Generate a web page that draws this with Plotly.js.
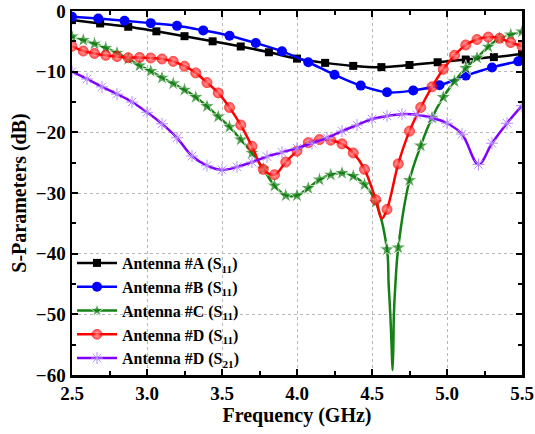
<!DOCTYPE html>
<html>
<head>
<meta charset="utf-8">
<script src="https://cdn.plot.ly/plotly-3.0.1.min.js"></script>
<style>html,body{margin:0;padding:0;background:#fff;}#chart{width:535px;height:434px;}</style>
</head>
<body>
<div id="chart"></div>
<script>
// Antenna #A (S11)
const freqA = [2.5, 2.6875, 2.875, 3.0625, 3.25, 3.4375, 3.625, 3.8125, 4.0, 4.1875, 4.375, 4.5625, 4.75, 4.9375, 5.125, 5.3125, 5.5];
const s11A  = [-1.5, -2.05, -2.6, -3.35, -4.15, -5.0, -5.85, -6.8, -7.85, -8.55, -9.05, -9.25, -8.9, -8.45, -8.0, -7.6, -7.1];

// Antenna #B (S11)
const freqB = [2.5, 2.675, 2.85, 3.025, 3.2, 3.375, 3.55, 3.725, 3.9, 4.075, 4.25, 4.425, 4.6, 4.775, 4.95, 5.125, 5.3, 5.475];
const s11B  = [-0.95, -1.25, -1.6, -2.0, -2.45, -3.2, -4.07, -5.27, -6.65, -8.45, -10.5, -12.3, -13.4, -13.1, -12.25, -10.65, -9.3, -8.3];

// Antenna #C (S11) - marked points
const freqC = [2.5, 2.575, 2.65, 2.725, 2.8, 2.875, 2.95, 3.025, 3.1, 3.175, 3.25, 3.325, 3.4, 3.475, 3.55, 3.625, 3.7, 3.775, 3.85, 3.925, 4.0, 4.075, 4.15, 4.225, 4.3, 4.375, 4.45, 4.525, 4.6, 4.675, 4.75, 4.825, 4.9, 4.975, 5.05, 5.125, 5.2, 5.275, 5.35, 5.425, 5.5];
const s11C  = [-4.2, -4.8, -5.4, -6.1, -6.9, -7.9, -9.0, -9.9, -11.0, -11.95, -13.0, -14.2, -15.7, -17.4, -19.1, -21.2, -23.4, -26.0, -28.8, -30.4, -30.4, -29.2, -27.8, -27.0, -26.7, -27.2, -28.6, -31.5, -39.3, -39.0, -27.9, -22.2, -17.6, -14.2, -11.6, -9.4, -7.7, -5.9, -4.5, -3.9, -3.4];
// Antenna #C (S11) - resonance dip (unmarked samples)
const freqCdip = [4.611, 4.622, 4.631, 4.637, 4.642, 4.646, 4.656];
const s11Cdip  = [-45, -50, -55.5, -59.2, -55.5, -50, -45];

// Antenna #D (S11) - marked points
const freqD = [2.5, 2.575, 2.65, 2.725, 2.8, 2.875, 2.95, 3.025, 3.1, 3.175, 3.25, 3.325, 3.4, 3.475, 3.55, 3.625, 3.7, 3.775, 3.85, 3.925, 4.0, 4.075, 4.15, 4.225, 4.3, 4.375, 4.45, 4.525, 4.6, 4.675, 4.75, 4.825, 4.9, 4.975, 5.05, 5.125, 5.2, 5.275, 5.35, 5.425, 5.5];
const s11D  = [-5.8, -6.6, -7.0, -7.3, -7.5, -7.7, -7.65, -7.75, -7.9, -8.3, -9.1, -10.2, -11.8, -13.5, -15.9, -18.8, -22.3, -26.1, -27.0, -24.9, -23.1, -21.7, -21.2, -21.3, -21.9, -23.4, -26.1, -31.1, -32.7, -25.2, -19.8, -15.9, -12.5, -9.6, -7.3, -5.6, -4.7, -4.3, -4.5, -5.2, -5.8];
const freqDdip = [4.565];
const s11Ddip  = [-34.2];

// Antenna #D (S21)
const freqE = [2.5, 2.6, 2.7, 2.8, 2.9, 3.0, 3.1, 3.2, 3.3, 3.4, 3.5, 3.6, 3.7, 3.8, 3.9, 4.0, 4.1, 4.2, 4.3, 4.4, 4.5, 4.6, 4.7, 4.8, 4.9, 5.0, 5.1, 5.21, 5.3, 5.4, 5.5];
const s21D  = [-10.0, -11.2, -12.5, -13.7, -15.0, -16.7, -18.6, -20.9, -23.9, -25.5, -26.2, -25.7, -24.9, -24.0, -23.3, -22.6, -21.8, -20.9, -19.8, -18.8, -17.8, -17.3, -17.0, -17.1, -17.6, -18.5, -20.3, -25.3, -21.8, -18.5, -15.6];

const legendNames = ['Antenna #A (S<sub>11</sub>)', 'Antenna #B (S<sub>11</sub>)', 'Antenna #C (S<sub>11</sub>)', 'Antenna #D (S<sub>11</sub>)', 'Antenna #D (S<sub>21</sub>)'];

// merge marked samples with unmarked samples; unmarked get marker size 0
function merge(fm, vm, fu, vu, size) {
  const pts = [];
  fm.forEach((f, i) => pts.push([f, vm[i], size]));
  fu.forEach((f, i) => pts.push([f, vu[i], 0]));
  pts.sort((a, b) => a[0] - b[0]);
  return {x: pts.map(p => p[0]), y: pts.map(p => p[1]), s: pts.map(p => p[2])};
}
const C = merge(freqC, s11C, freqCdip, s11Cdip, 12);
const D = merge(freqD, s11D, freqDdip, s11Ddip, 10);

const lw = 2.5;
const traces = [
  {x: freqA, y: s11A, name: legendNames[0], legendgroup: 'a', mode: 'lines+markers',
   line: {color: '#000000', width: lw, shape: 'spline'},
   marker: {symbol: 'square', size: 8, color: '#000000'}},
  {x: freqB, y: s11B, name: legendNames[1], legendgroup: 'b', mode: 'lines+markers',
   line: {color: '#0000ff', width: lw, shape: 'spline'},
   marker: {symbol: 'circle', size: 10, color: '#0000ff'}},
  {x: C.x, y: C.y, name: legendNames[2], legendgroup: 'c', mode: 'lines+markers',
   line: {color: '#158015', width: lw, shape: 'spline'},
   marker: {symbol: 'star', size: C.s, color: '#158015'}},
  {x: D.x, y: D.y, name: legendNames[3], legendgroup: 'd', mode: 'lines+markers',
   line: {color: '#ff0000', width: lw, shape: 'spline'},
   marker: {symbol: 'circle', size: D.s, color: '#ff0000', line: {color: '#ff0000', width: 1},
            gradient: {type: 'radial', color: '#ff9a9a'}}},
  {x: freqE, y: s21D, name: legendNames[4], legendgroup: 'e', mode: 'lines+markers',
   line: {color: '#8000ff', width: lw, shape: 'spline'},
   marker: {symbol: 'asterisk-open', size: 10, color: '#b58cff', line: {color: '#b58cff', width: 1}}}
];

const fontFam = '"Liberation Serif", "Times New Roman", serif';
const axisCommon = {
  showline: true, linecolor: '#000', linewidth: 2.5, mirror: 'allticks',
  ticks: 'inside', ticklen: 6, tickwidth: 2, tickcolor: '#000',
  showgrid: true, gridcolor: '#b8b8b8', griddash: 'dot', gridwidth: 1,
  zeroline: false,
  tickfont: {family: fontFam, size: 19, color: '#000', weight: 'bold'}
};

const layout = {
  width: 535, height: 434,
  margin: {l: 72, r: 13, t: 11, b: 59},
  paper_bgcolor: '#fff', plot_bgcolor: '#fff',
  font: {family: fontFam, color: '#000'},
  xaxis: Object.assign({}, axisCommon, {
    range: [2.5, 5.5], dtick: 0.5, tick0: 2.5, tickformat: '.1f',
    minor: {dtick: 0.25, ticks: 'inside', ticklen: 4, tickwidth: 2, tickcolor: '#000', showgrid: false},
    title: {text: 'Frequency (GHz)', font: {family: fontFam, size: 20, color: '#000', weight: 'bold'}, standoff: 5}
  }),
  yaxis: Object.assign({}, axisCommon, {
    range: [-60, 0], dtick: 10, tick0: 0,
    minor: {dtick: 5, ticks: 'inside', ticklen: 4, tickwidth: 2, tickcolor: '#000', showgrid: false},
    title: {text: 'S-Parameters (dB)', font: {family: fontFam, size: 20, color: '#000', weight: 'bold'}, standoff: 4}
  }),
  showlegend: true,
  legend: {x: 0, y: 0.0, xanchor: 'left', yanchor: 'bottom', bgcolor: 'rgba(0,0,0,0)',
           borderwidth: 0, itemwidth: 40, tracegroupgap: 0,
           font: {family: fontFam, size: 16, color: '#000', weight: 'bold'}}
};

Plotly.newPlot('chart', traces, layout, {displayModeBar: false, staticPlot: true});
</script>
</body>
</html>
